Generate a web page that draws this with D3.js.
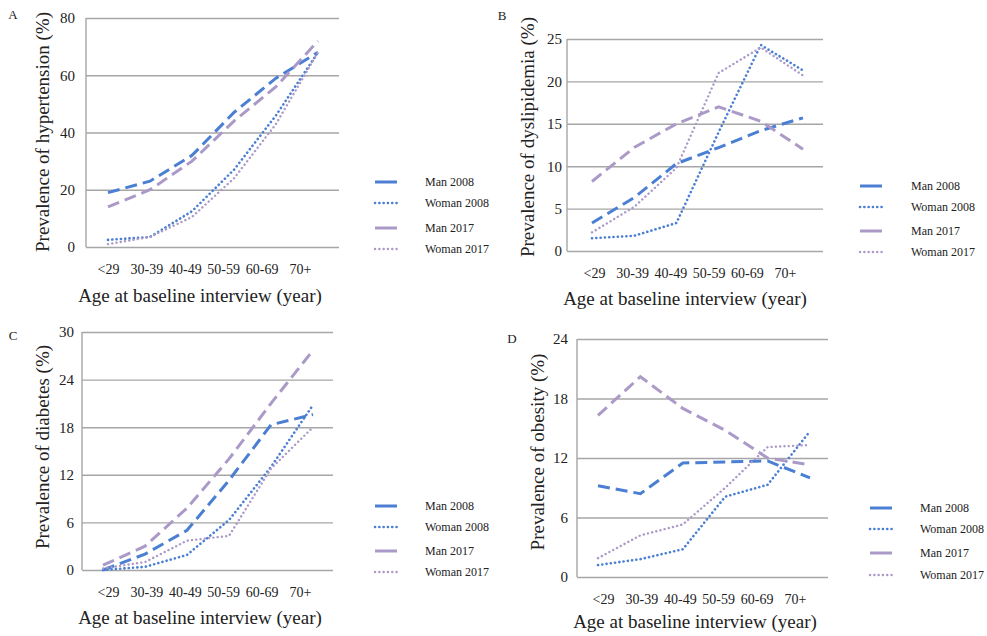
<!DOCTYPE html>
<html>
<head>
<meta charset="utf-8">
<script src="https://cdn.jsdelivr.net/npm/d3@7"></script>
<style>
  body { margin: 0; background: #fff; }
  text { font-family: "Liberation Serif", "Times New Roman", serif; fill: #222; }
</style>
</head>
<body>
<script>
// Age groups (x categories)
var ageGroups = ["<29", "30-39", "40-49", "50-59", "60-69", "70+"];
var seriesNames = ["Man 2008", "Woman 2008", "Man 2017", "Woman 2017"];

// A: hypertension (%)
var hypMan2008 = [19, 23, 32, 47, 59, 68];
var hypWoman2008 = [2.5, 3.5, 12.5, 27, 46, 68];
var hypMan2017 = [14, 20, 30, 44, 56, 72];
var hypWoman2017 = [1, 3.5, 10.5, 24, 43, 68];
var hypTicks = [0, 20, 40, 60, 80];

// B: dyslipidemia (%)
var dysMan2008 = [3.3, 6.3, 10.3, 12.2, 14.2, 15.7];
var dysWoman2008 = [1.5, 1.8, 3.3, 14, 24.3, 21.3];
var dysMan2017 = [8.2, 12.2, 15, 17, 15.3, 12];
var dysWoman2017 = [2.2, 5.2, 9.8, 21, 24, 20.7];
var dysTicks = [0, 5, 10, 15, 20, 25];

// C: diabetes (%)
var diaMan2008 = [0, 2, 5, 11.3, 18.3, 19.6];
var diaWoman2008 = [0, 0.4, 1.9, 6.3, 13, 20.8];
var diaMan2017 = [0.6, 3, 7.8, 14, 21, 27.7];
var diaWoman2017 = [0.2, 1, 3.7, 4.3, 12.8, 18];
var diaTicks = [0, 6, 12, 18, 24, 30];

// D: obesity (%)
var obeMan2008 = [9.2, 8.4, 11.5, 11.6, 11.7, 10];
var obeWoman2008 = [1.2, 1.8, 2.8, 8.1, 9.3, 14.7];
var obeMan2017 = [16.3, 20.2, 17, 14.8, 12, 11.3];
var obeWoman2017 = [1.9, 4.2, 5.3, 9, 13.1, 13.3];
var obeTicks = [0, 6, 12, 18, 24];

var w = 987, h = 636;

var svg = d3.select("body").append("svg")
    .attr("width", w)
    .attr("height", h);

// line styles per series
var styles = [
    { color: "#4a7fd3", dash: "12,6", width: 3, cap: "butt" },
    { color: "#4a7fd3", dash: "0.1,4.2", width: 2.6, cap: "round" },
    { color: "#ab9ac8", dash: "12,6", width: 3, cap: "butt" },
    { color: "#ab9ac8", dash: "0.1,4.2", width: 2.4, cap: "round" }
];

var panels = [
    { letter: "A", lx: 13, ly: 19, x0: 86, x1: 339, y0: 18, y1: 247,
      px0: 108, px1: 318, tx0: 108, tx1: 300, tickX: 75,
      ytitle: "Prevalence of hypertension (%)", ytx: 42, yty: 132,
      xtx: 200, xty: 302, legX: 375, legTx: 425, legY: [182, 203, 228, 249],
      ticks: hypTicks, series: [hypMan2008, hypWoman2008, hypMan2017, hypWoman2017] },
    { letter: "B", lx: 502, ly: 20, x0: 567, x1: 823, y0: 39, y1: 251,
      px0: 592, px1: 803, tx0: 594, tx1: 785, tickX: 562,
      ytitle: "Prevalence of dyslipidemia (%)", ytx: 527, yty: 137,
      xtx: 685, xty: 305, legX: 860, legTx: 911, legY: [186, 207, 231, 252],
      ticks: dysTicks, series: [dysMan2008, dysWoman2008, dysMan2017, dysWoman2017] },
    { letter: "C", lx: 13, ly: 340, x0: 82, x1: 333, y0: 332, y1: 570,
      px0: 103, px1: 313, tx0: 108, tx1: 300, tickX: 74,
      ytitle: "Prevalence of diabetes (%)", ytx: 42, yty: 447,
      xtx: 200, xty: 624, legX: 375, legTx: 425, legY: [506, 527, 551, 572],
      ticks: diaTicks, series: [diaMan2008, diaWoman2008, diaMan2017, diaWoman2017] },
    { letter: "D", lx: 512, ly: 343, x0: 577, x1: 828, y0: 339, y1: 577,
      px0: 598, px1: 810, tx0: 603, tx1: 795, tickX: 568,
      ytitle: "Prevalence of obesity (%)", ytx: 537, yty: 452,
      xtx: 695, xty: 628, legX: 870, legTx: 920, legY: [508, 529, 553, 575],
      ticks: obeTicks, series: [obeMan2008, obeWoman2008, obeMan2017, obeWoman2017] }
];

panels.forEach(function(p){
    var g = svg.append("g");

    var x = d3.scalePoint().domain(ageGroups).range([p.px0, p.px1]);
    // category labels sit slightly compressed relative to the data points
    var xl = d3.scalePoint().domain(ageGroups).range([p.tx0, p.tx1]);
    var y = d3.scaleLinear()
        .domain([0, d3.max(p.ticks)])
        .range([p.y1, p.y0]);

    // gridlines + tick labels
    var yAxis = d3.axisLeft(y)
        .tickValues(p.ticks)
        .tickSize(-(p.x1 - p.x0))
        .tickPadding(p.x0 - p.tickX);
    var ya = g.append("g")
        .attr("transform", "translate(" + p.x0 + ",0)")
        .call(yAxis);
    ya.select(".domain").remove();
    ya.selectAll(".tick line").attr("stroke", "#a6a6a6").attr("stroke-width", 1.4);
    ya.selectAll(".tick text")
        .style("font-family", "Liberation Serif, serif")
        .style("font-size", "15px")
        .attr("fill", "#222");

    // vertical axis line
    g.append("line")
        .attr("x1", p.x0).attr("x2", p.x0)
        .attr("y1", p.y0).attr("y2", p.y1)
        .attr("stroke", "#a6a6a6").attr("stroke-width", 1.4);

    // category labels
    var xAxis = d3.axisBottom(xl).tickSize(0).tickPadding(17);
    var xa = g.append("g")
        .attr("transform", "translate(0," + p.y1 + ")")
        .call(xAxis);
    xa.select(".domain").remove();
    xa.selectAll(".tick text")
        .style("font-family", "Liberation Serif, serif")
        .style("font-size", "14px")
        .attr("fill", "#222");

    var line = d3.line()
        .x(function(d, i){ return x(ageGroups[i]); })
        .y(function(d){ return y(d); });

    p.series.forEach(function(s, i){
        var st = styles[i];
        g.append("path")
            .datum(s)
            .attr("d", line)
            .attr("fill", "none")
            .attr("stroke", st.color)
            .attr("stroke-width", st.width)
            .attr("stroke-dasharray", st.dash)
            .attr("stroke-linecap", st.cap);
    });

    // legend
    seriesNames.forEach(function(name, i){
        var st = styles[i];
        var ly = p.legY[i];
        g.append("line")
            .attr("x1", p.legX).attr("x2", p.legX + 22)
            .attr("y1", ly).attr("y2", ly)
            .attr("stroke", st.color)
            .attr("stroke-width", st.width)
            .attr("stroke-linecap", st.cap)
            .attr("stroke-dasharray", st.cap === "round" ? "0.1,4.2" : null);
        g.append("text")
            .attr("x", p.legTx)
            .attr("y", ly + 4)
            .style("font-size", "12px")
            .text(name);
    });

    // titles
    g.append("text")
        .attr("transform", "translate(" + p.ytx + "," + p.yty + ") rotate(-90)")
        .attr("text-anchor", "middle")
        .attr("dy", "0.35em")
        .style("font-size", "19px")
        .text(p.ytitle);

    g.append("text")
        .attr("x", p.xtx)
        .attr("y", p.xty)
        .attr("text-anchor", "middle")
        .style("font-size", "19px")
        .text("Age at baseline interview (year)");

    g.append("text")
        .attr("x", p.lx)
        .attr("y", p.ly)
        .attr("text-anchor", "middle")
        .style("font-size", "13px")
        .text(p.letter);
});
</script>
</body>
</html>
